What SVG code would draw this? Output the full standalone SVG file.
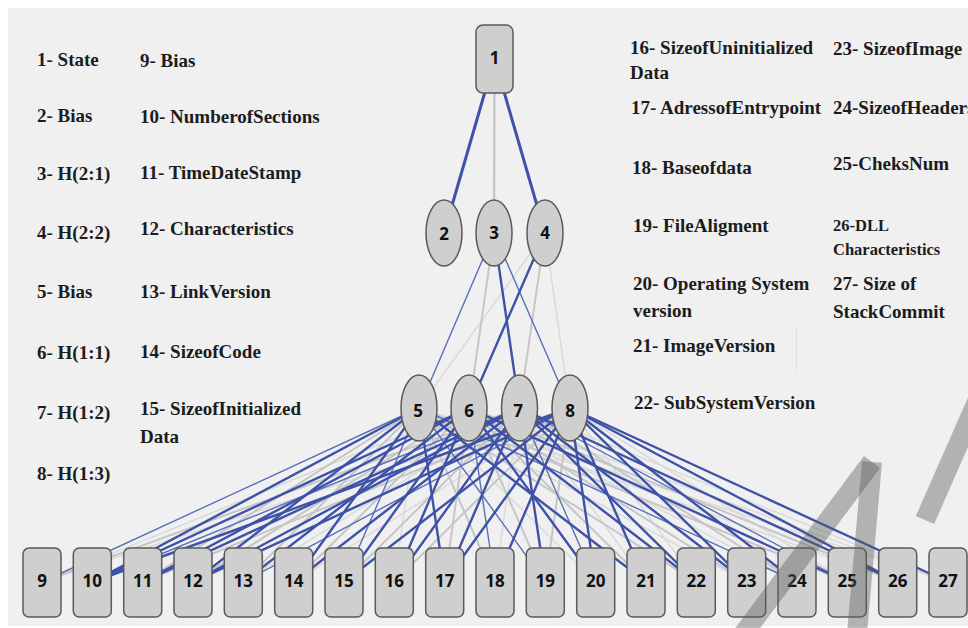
<svg xmlns="http://www.w3.org/2000/svg" width="968" height="628" viewBox="0 0 968 628">
  <style>
    .legend { font-family: "Liberation Serif", "Times New Roman", serif; font-weight: bold; font-size: 19px; fill: #1c1c1c; }
    .legend-sm { font-size: 16.5px; }
    .node { fill: #cfcfcf; stroke: #5a5a5a; stroke-width: 1.5; }
    .num { font-family: "Open Sans", "Liberation Sans", sans-serif; font-weight: bold; font-size: 17px; fill: #111; text-anchor: middle; dominant-baseline: central; }
    .edges line { stroke-linecap: round; }
    .l { stroke: #dadada; stroke-width: 1.5; }
    .g { stroke: #c6c6c6; stroke-width: 2; }
    .b { stroke: #5a6fb9; stroke-width: 1.4; }
    .B { stroke: #3d52a8; stroke-width: 2.4; }
    .T { stroke: #3d52a8; stroke-width: 3; }
    .Tg { stroke: #c8c8c8; stroke-width: 2.5; }
  </style>

  <!-- canvas -->
  <rect x="0" y="0" width="968" height="628" fill="#ffffff"/>
  <rect x="8" y="8" width="960" height="618" fill="#f0f0f0"/>

  <!-- legend, left columns -->
  <g id="legend-left">
    <text class="legend" x="37" y="66">1- State</text>
    <text class="legend" x="37" y="122">2- Bias</text>
    <text class="legend" x="37" y="180">3- H(2:1)</text>
    <text class="legend" x="37" y="239">4- H(2:2)</text>
    <text class="legend" x="37" y="298">5- Bias</text>
    <text class="legend" x="37" y="359">6- H(1:1)</text>
    <text class="legend" x="37" y="419">7- H(1:2)</text>
    <text class="legend" x="37" y="480">8- H(1:3)</text>
    <text class="legend" x="140" y="67">9- Bias</text>
    <text class="legend" x="140" y="123">10- NumberofSections</text>
    <text class="legend" x="140" y="179">11- TimeDateStamp</text>
    <text class="legend" x="140" y="235">12- Characteristics</text>
    <text class="legend" x="140" y="298">13- LinkVersion</text>
    <text class="legend" x="140" y="358">14- SizeofCode</text>
    <text class="legend" x="140" y="415">15- SizeofInitialized</text>
    <text class="legend" x="140" y="443">Data</text>
  </g>

  <!-- legend, right columns -->
  <g id="legend-right">
    <text class="legend" x="630" y="54">16- SizeofUninitialized</text>
    <text class="legend" x="630" y="79">Data</text>
    <text class="legend" x="631" y="114">17- AdressofEntrypoint</text>
    <text class="legend" x="632" y="174">18- Baseofdata</text>
    <text class="legend" x="633" y="232">19- FileAligment</text>
    <text class="legend" x="633" y="290">20- Operating System</text>
    <text class="legend" x="633" y="317">version</text>
    <text class="legend" x="633" y="352">21- ImageVersion</text>
    <text class="legend" x="634" y="409">22- SubSystemVersion</text>
    <text class="legend" x="833" y="55">23- SizeofImage</text>
    <text class="legend" x="833" y="114">24-SizeofHeaders</text>
    <text class="legend" x="833" y="170">25-CheksNum</text>
    <text class="legend legend-sm" x="833" y="231">26-DLL</text>
    <text class="legend legend-sm" x="833" y="255">Characteristics</text>
    <text class="legend" x="833" y="290">27- Size of</text>
    <text class="legend" x="833" y="318">StackCommit</text>
  </g>
  <line x1="796.5" y1="330" x2="796.5" y2="370" stroke="#dcdcdc" stroke-width="1"/>

  <!-- connectors: centre to centre, drawn beneath the nodes -->
  <g id="connectors" class="edges">
    <!-- state to hidden layer 2 -->
    <line class="Tg" x1="494.5" y1="59" x2="494" y2="233"/>
    <line class="T" x1="494.5" y1="59" x2="444" y2="233"/>
    <line class="T" x1="494.5" y1="59" x2="545" y2="233"/>
    <!-- hidden layer 2 to hidden layer 1 -->
    <line class="l" x1="545" y1="233" x2="419" y2="408"/>
    <line class="l" x1="545" y1="233" x2="570" y2="408"/>
    <line class="g" x1="494" y1="233" x2="469" y2="408"/>
    <line class="g" x1="545" y1="233" x2="519.5" y2="408"/>
    <line class="b" x1="494" y1="233" x2="419" y2="408"/>
    <line class="b" x1="494" y1="233" x2="570" y2="408"/>
    <line class="B" x1="494" y1="233" x2="519.5" y2="408"/>
    <line class="B" x1="545" y1="233" x2="469" y2="408"/>

    <!-- hidden layer 1 to inputs: light -->
    <line class="l" x1="419" y1="408" x2="394.3" y2="582"/>
    <line class="l" x1="419" y1="408" x2="595.7" y2="582"/>
    <line class="l" x1="419" y1="408" x2="746.7" y2="582"/>
    <line class="l" x1="419" y1="408" x2="897.7" y2="582"/>
    <line class="l" x1="419" y1="408" x2="948" y2="582"/>
    <line class="l" x1="469" y1="408" x2="42" y2="582"/>
    <line class="l" x1="469" y1="408" x2="797" y2="582"/>
    <line class="l" x1="469" y1="408" x2="948" y2="582"/>
    <line class="l" x1="519.5" y1="408" x2="243.3" y2="582"/>
    <line class="l" x1="519.5" y1="408" x2="495" y2="582"/>
    <line class="l" x1="519.5" y1="408" x2="646" y2="582"/>
    <line class="l" x1="519.5" y1="408" x2="948" y2="582"/>
    <line class="l" x1="570" y1="408" x2="42" y2="582"/>
    <line class="l" x1="570" y1="408" x2="293.7" y2="582"/>
    <line class="l" x1="570" y1="408" x2="696.3" y2="582"/>
    <line class="l" x1="570" y1="408" x2="847.3" y2="582"/>
    <!-- gray -->
    <line class="g" x1="419" y1="408" x2="142.7" y2="582"/>
    <line class="g" x1="419" y1="408" x2="243.3" y2="582"/>
    <line class="g" x1="419" y1="408" x2="495" y2="582"/>
    <line class="g" x1="419" y1="408" x2="696.3" y2="582"/>
    <line class="g" x1="419" y1="408" x2="847.3" y2="582"/>
    <line class="g" x1="469" y1="408" x2="193" y2="582"/>
    <line class="g" x1="469" y1="408" x2="293.7" y2="582"/>
    <line class="g" x1="469" y1="408" x2="444.7" y2="582"/>
    <line class="g" x1="469" y1="408" x2="545.3" y2="582"/>
    <line class="g" x1="469" y1="408" x2="646" y2="582"/>
    <line class="g" x1="469" y1="408" x2="746.7" y2="582"/>
    <line class="g" x1="469" y1="408" x2="897.7" y2="582"/>
    <line class="g" x1="519.5" y1="408" x2="42" y2="582"/>
    <line class="g" x1="519.5" y1="408" x2="344" y2="582"/>
    <line class="g" x1="519.5" y1="408" x2="797" y2="582"/>
    <line class="g" x1="570" y1="408" x2="142.7" y2="582"/>
    <line class="g" x1="570" y1="408" x2="394.3" y2="582"/>
    <line class="g" x1="570" y1="408" x2="545.3" y2="582"/>
    <!-- thin blue -->
    <line class="b" x1="419" y1="408" x2="42" y2="582"/>
    <line class="b" x1="419" y1="408" x2="344" y2="582"/>
    <line class="b" x1="419" y1="408" x2="545.3" y2="582"/>
    <line class="b" x1="419" y1="408" x2="797" y2="582"/>
    <line class="b" x1="469" y1="408" x2="495" y2="582"/>
    <line class="b" x1="519.5" y1="408" x2="92.3" y2="582"/>
    <line class="b" x1="519.5" y1="408" x2="595.7" y2="582"/>
    <line class="b" x1="519.5" y1="408" x2="847.3" y2="582"/>
    <line class="b" x1="570" y1="408" x2="243.3" y2="582"/>
    <!-- blue -->
    <line class="B" x1="419" y1="408" x2="92.3" y2="582"/>
    <line class="B" x1="419" y1="408" x2="193" y2="582"/>
    <line class="B" x1="419" y1="408" x2="293.7" y2="582"/>
    <line class="B" x1="419" y1="408" x2="444.7" y2="582"/>
    <line class="B" x1="419" y1="408" x2="646" y2="582"/>
    <line class="B" x1="469" y1="408" x2="92.3" y2="582"/>
    <line class="B" x1="469" y1="408" x2="142.7" y2="582"/>
    <line class="B" x1="469" y1="408" x2="243.3" y2="582"/>
    <line class="B" x1="469" y1="408" x2="344" y2="582"/>
    <line class="B" x1="469" y1="408" x2="394.3" y2="582"/>
    <line class="B" x1="469" y1="408" x2="595.7" y2="582"/>
    <line class="B" x1="469" y1="408" x2="696.3" y2="582"/>
    <line class="B" x1="469" y1="408" x2="847.3" y2="582"/>
    <line class="B" x1="519.5" y1="408" x2="142.7" y2="582"/>
    <line class="B" x1="519.5" y1="408" x2="193" y2="582"/>
    <line class="B" x1="519.5" y1="408" x2="293.7" y2="582"/>
    <line class="B" x1="519.5" y1="408" x2="394.3" y2="582"/>
    <line class="B" x1="519.5" y1="408" x2="444.7" y2="582"/>
    <line class="B" x1="519.5" y1="408" x2="545.3" y2="582"/>
    <line class="B" x1="519.5" y1="408" x2="696.3" y2="582"/>
    <line class="B" x1="519.5" y1="408" x2="746.7" y2="582"/>
    <line class="B" x1="519.5" y1="408" x2="897.7" y2="582"/>
    <line class="B" x1="570" y1="408" x2="92.3" y2="582"/>
    <line class="B" x1="570" y1="408" x2="193" y2="582"/>
    <line class="B" x1="570" y1="408" x2="344" y2="582"/>
    <line class="B" x1="570" y1="408" x2="444.7" y2="582"/>
    <line class="B" x1="570" y1="408" x2="495" y2="582"/>
    <line class="B" x1="570" y1="408" x2="595.7" y2="582"/>
    <line class="B" x1="570" y1="408" x2="646" y2="582"/>
    <line class="B" x1="570" y1="408" x2="746.7" y2="582"/>
    <line class="B" x1="570" y1="408" x2="797" y2="582"/>
    <line class="B" x1="570" y1="408" x2="897.7" y2="582"/>
    <line class="B" x1="570" y1="408" x2="948" y2="582"/>
  </g>

  <!-- state node -->
  <g id="n1"><rect class="node" x="476" y="25" width="37" height="68" rx="7"/><text class="num" x="494.5" y="57">1</text></g>

  <!-- hidden layer 2 -->
  <g id="n2"><ellipse class="node" cx="444" cy="233" rx="18" ry="33"/><text class="num" x="444" y="233">2</text></g>
  <g id="n3"><ellipse class="node" cx="494" cy="233" rx="18" ry="33"/><text class="num" x="494" y="232">3</text></g>
  <g id="n4"><ellipse class="node" cx="545" cy="233" rx="18" ry="33"/><text class="num" x="545" y="232">4</text></g>

  <!-- hidden layer 1 -->
  <g id="n5"><ellipse class="node" cx="419" cy="408" rx="18" ry="33"/><text class="num" x="418" y="410">5</text></g>
  <g id="n6"><ellipse class="node" cx="469" cy="408" rx="18" ry="33"/><text class="num" x="469" y="410">6</text></g>
  <g id="n7"><ellipse class="node" cx="519.5" cy="408" rx="18" ry="33"/><text class="num" x="518" y="410">7</text></g>
  <g id="n8"><ellipse class="node" cx="570" cy="408" rx="18" ry="33"/><text class="num" x="570" y="410">8</text></g>

  <!-- input features -->
  <g id="n9"><rect class="node" x="23" y="548" width="38" height="69" rx="6"/><text class="num" x="42" y="580">9</text></g>
  <g id="n10"><rect class="node" x="73.3" y="548" width="38" height="69" rx="6"/><text class="num" x="92.3" y="580">10</text></g>
  <g id="n11"><rect class="node" x="123.7" y="548" width="38" height="69" rx="6"/><text class="num" x="142.7" y="580">11</text></g>
  <g id="n12"><rect class="node" x="174" y="548" width="38" height="69" rx="6"/><text class="num" x="193" y="580">12</text></g>
  <g id="n13"><rect class="node" x="224.3" y="548" width="38" height="69" rx="6"/><text class="num" x="243.3" y="580">13</text></g>
  <g id="n14"><rect class="node" x="274.7" y="548" width="38" height="69" rx="6"/><text class="num" x="293.7" y="580">14</text></g>
  <g id="n15"><rect class="node" x="325" y="548" width="38" height="69" rx="6"/><text class="num" x="344" y="580">15</text></g>
  <g id="n16"><rect class="node" x="375.3" y="548" width="38" height="69" rx="6"/><text class="num" x="394.3" y="580">16</text></g>
  <g id="n17"><rect class="node" x="425.7" y="548" width="38" height="69" rx="6"/><text class="num" x="444.7" y="580">17</text></g>
  <g id="n18"><rect class="node" x="476" y="548" width="38" height="69" rx="6"/><text class="num" x="495" y="580">18</text></g>
  <g id="n19"><rect class="node" x="526.3" y="548" width="38" height="69" rx="6"/><text class="num" x="545.3" y="580">19</text></g>
  <g id="n20"><rect class="node" x="576.7" y="548" width="38" height="69" rx="6"/><text class="num" x="595.7" y="580">20</text></g>
  <g id="n21"><rect class="node" x="627" y="548" width="38" height="69" rx="6"/><text class="num" x="646" y="580">21</text></g>
  <g id="n22"><rect class="node" x="677.3" y="548" width="38" height="69" rx="6"/><text class="num" x="696.3" y="580">22</text></g>
  <g id="n23"><rect class="node" x="727.7" y="548" width="38" height="69" rx="6"/><text class="num" x="746.7" y="580">23</text></g>
  <g id="n24"><rect class="node" x="778" y="548" width="38" height="69" rx="6"/><text class="num" x="797" y="580">24</text></g>
  <g id="n25"><rect class="node" x="828.3" y="548" width="38" height="69" rx="6"/><text class="num" x="847.3" y="580">25</text></g>
  <g id="n26"><rect class="node" x="878.7" y="548" width="38" height="69" rx="6"/><text class="num" x="897.7" y="580">26</text></g>
  <g id="n27"><rect class="node" x="929" y="548" width="38" height="69" rx="6"/><text class="num" x="948" y="580">27</text></g>

  <!-- translucent stamp strokes across the lower right -->
  <g fill="none" stroke="#5c5c5c" stroke-opacity="0.42" stroke-width="20" stroke-linejoin="miter">
    <line x1="735" y1="645" x2="872" y2="462"/>
    <line x1="872" y1="462" x2="856" y2="645"/>
    <line x1="925" y1="520" x2="980" y2="395"/>
  </g>
</svg>
